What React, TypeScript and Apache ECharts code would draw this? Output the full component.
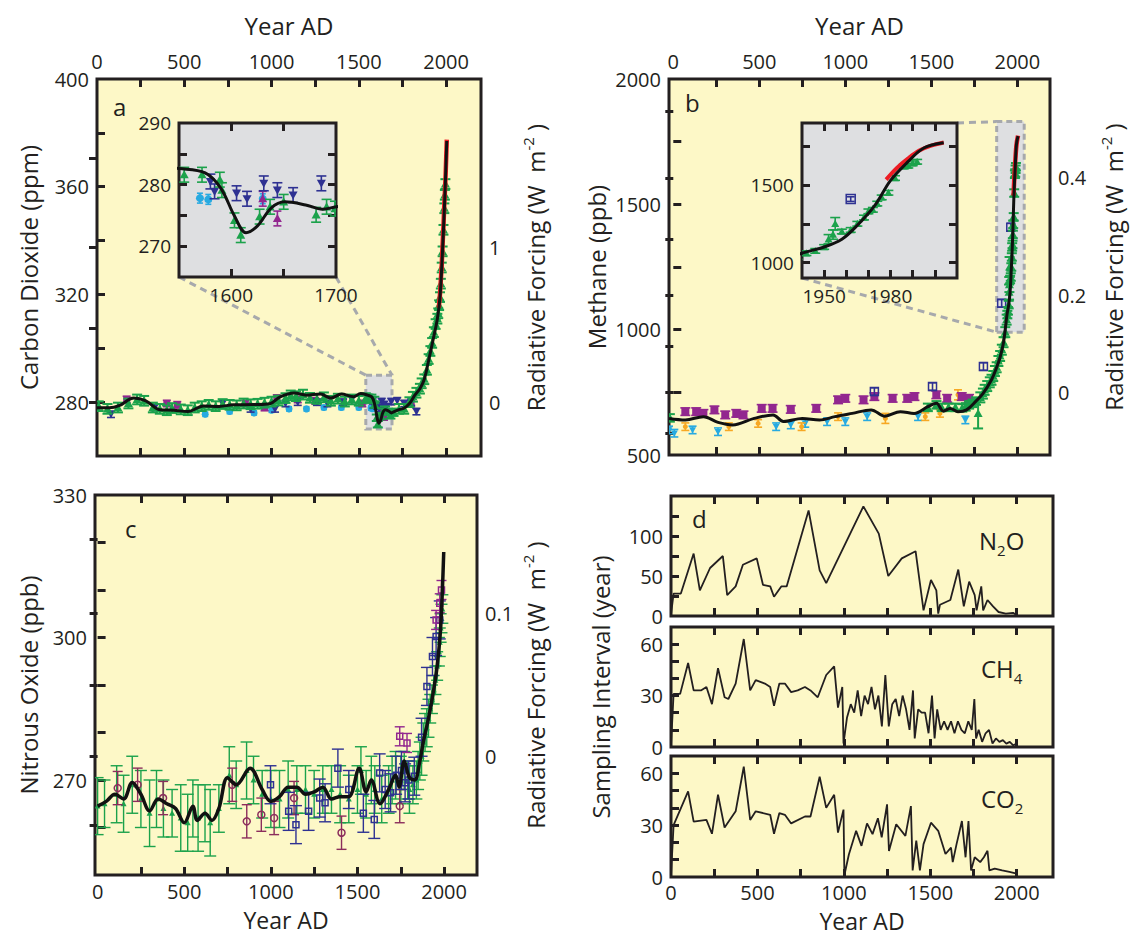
import React, { useEffect, useRef } from "react";
import * as echarts from "echarts";

// ---------------- styling constants ----------------
const FONT = "'Open Sans', 'Noto Sans', sans-serif";
const INK = "#231f20";
const PANEL_BG = "#fdf8c7";
const INSET_BG = "#dedfe1";
const DASH = "#a7a9ac";
const C_GREEN = "#1ba24b";
const C_BLUE = "#2e3192";
const C_CYAN = "#27aae1";
const C_MAGENTA = "#92278f";
const C_ORANGE = "#f7a823";
const C_RED = "#ed1c24";
const C_PLUM = "#8b2d5c";

// ---------------- tick / label values ----------------
const yearTicks = [250, 500, 750, 1000, 1250, 1500, 1750, 2000];
const yearLabels = [0, 500, 1000, 1500, 2000];

const co2Ticks = [280, 300, 320, 340, 360, 380];
const co2Labels = [280, 320, 360, 400];
const co2RfTicks = [0, 0.5, 1, 1.5];
const co2RfLabels = [0, 1];
const co2InsetXTicks = [1600, 1650];
const co2InsetXLabels = [1600, 1700];
const co2InsetYTicks = [270, 275, 280, 285];
const co2InsetYLabels = [270, 280, 290];

const ch4Ticks = [750, 1000, 1250, 1500, 1750];
const ch4Labels = [500, 1000, 1500, 2000];
const ch4RfTicks = [-0.1, 0, 0.1, 0.2, 0.3, 0.4, 0.5];
const ch4RfLabels = [0, 0.2, 0.4];
const ch4InsetXTicks = [1950, 1960, 1970, 1980, 1990, 2000];
const ch4InsetXLabels = [1950, 1980];
const ch4InsetYTicks = [1000, 1250, 1500, 1750];
const ch4InsetYLabels = [1000, 1500];

const n2oTicks = [260, 270, 280, 290, 300, 310, 320];
const n2oLabels = [270, 300, 330];
const n2oRfTicks = [-0.05, 0, 0.05, 0.1, 0.15];
const n2oRfLabels = [0, 0.1];

const dN2oTicks = [25, 50, 75, 100, 125];
const dN2oLabels = [0, 50, 100];
const dSmallTicks = [10, 20, 30, 40, 50, 60];
const dSmallLabels = [0, 30, 60];

// ---------------- Panel a : CO2 (ppm) ----------------
const co2Spline = [
  [0, 277.9], [70, 277.9], [130, 278.8], [210, 281.5], [280, 280.5], [360, 277.2], [440, 277], [520, 276.5],
  [610, 278.6], [700, 278.4], [780, 279], [900, 279.1], [990, 279.4], [1050, 282], [1130, 283.4], [1200, 282.6],
  [1280, 283], [1340, 281.5], [1400, 283], [1470, 282], [1510, 283.2], [1550, 282.6], [1575, 281.9], [1590, 279.4],
  [1603, 274.9], [1614, 272.2], [1625, 273.3], [1638, 276.2], [1651, 277.2], [1671, 276.7], [1687, 276], [1700, 276.4],
  [1730, 277.2], [1760, 277.8], [1790, 279.5], [1820, 282.5], [1850, 285], [1875, 288.5], [1900, 295.5], [1925, 303],
  [1950, 311], [1965, 319], [1975, 330], [1985, 344], [1995, 360], [2004, 377],
];
const co2Instrumental = [
  [1958, 315], [1965, 320], [1970, 325.5], [1975, 331], [1980, 338.5], [1985, 345.5], [1990, 354], [1995, 360.5],
  [2000, 369.5], [2004, 377.5],
];
const co2LawDome = [
  [10, 278.5, 1.8], [60, 277.5, 1.8], [120, 278, 1.8], [180, 279.5, 1.8], [230, 281, 1.8], [270, 280.5, 1.8],
  [320, 278, 1.8], [360, 277.5, 1.8], [400, 277, 1.8], [430, 277.8, 1.8], [480, 277.3, 1.8], [520, 277, 1.8],
  [560, 278, 1.8], [600, 278.5, 1.8], [640, 279, 1.8], [680, 278.5, 1.8], [720, 279.3, 1.8], [760, 279, 1.8],
  [800, 278.8, 1.8], [840, 279.5, 1.8], [880, 279.2, 1.8], [920, 279.4, 1.8], [960, 279.8, 1.8], [1000, 280.2, 1.8],
  [1040, 280.6, 1.8], [1080, 281.5, 1.8], [1110, 282.5, 1.8], [1140, 282.2, 1.8], [1180, 282.8, 1.8], [1220, 281.6, 1.8],
  [1260, 281.2, 1.8], [1300, 281.8, 1.8], [1340, 280.5, 1.8], [1380, 281.3, 1.8], [1420, 280.2, 1.8], [1460, 281, 1.8],
  [1500, 280.5, 1.8], [1540, 281.5, 1.8], [1555, 281.6, 1.2], [1572, 281.6, 1.2], [1589, 280.8, 1.2], [1591, 279.1, 1.2],
  [1603, 274.2, 1.2], [1609, 271.8, 1.2], [1627, 274.8, 1.2], [1637, 276.4, 1.2], [1650, 277.2, 1.2], [1681, 275.1, 1.2],
  [1691, 276.4, 1.2], [1699, 276.1, 1.2], [1730, 277.5, 1.8], [1760, 277.5, 1.8], [1790, 280, 1.8], [1810, 282, 1.8],
  [1830, 283.5, 1.8], [1850, 285, 1.8], [1860, 287, 1.8], [1875, 288.5, 1.8], [1890, 292, 1.8], [1900, 296, 1.8],
  [1910, 299, 1.8], [1920, 302, 1.8], [1930, 306, 1.8], [1940, 309, 1.8], [1950, 311, 1.8], [1955, 313, 1.8],
  [1960, 316, 1.8], [1965, 319, 1.8], [1970, 324, 1.8], [1975, 330, 1.8], [1980, 336, 1.8], [1985, 344, 1.8],
  [1990, 352, 1.8], [1993, 357, 1.8], [1996, 361, 1.8],
];
const co2DomeC = [
  [80, 275.5, 1.2], [330, 278, 1.2], [720, 279.5, 1.2], [880, 277.5, 1.2], [1020, 277.5, 1.2], [1080, 279.5, 1.2],
  [1150, 280, 1.2], [1260, 280, 1.2], [1320, 279.5, 1.2], [1410, 280, 1.2], [1460, 281, 1.2], [1580, 280.5, 1.2],
  [1584, 278.9, 1.2], [1605, 278.6, 1.2], [1615, 277.7, 1.2], [1631, 280.2, 1.2], [1644, 279.1, 1.2], [1659, 278.3, 1.2],
  [1686, 280.2, 1.2], [1720, 280.5, 1.2], [1760, 279.5, 1.2], [1800, 280, 1.2], [1830, 276.5, 1.2],
];
const co2TaylorDome = [
  [620, 275.5, 0.8], [760, 276.5, 0.8], [900, 276, 0.8], [1000, 277, 0.8], [1100, 277.5, 0.8], [1200, 277.5, 0.8],
  [1300, 278, 0.8], [1400, 278, 0.8], [1500, 278, 0.8], [1570, 277.8, 0.8], [1578, 277.6, 0.8], [1630, 277.7, 0.8],
];
const co2Other = [
  [170, 281, 1.2], [400, 279.5, 1.2], [460, 279, 1.2], [850, 279.5, 1.2], [960, 278, 1.2], [1030, 281.5, 1.2],
  [1150, 281, 1.2], [1250, 280.5, 1.2], [1520, 279.5, 1.2], [1630, 277.7, 1.2], [1644, 274.5, 1.2], [1800, 279.5, 1.2],
];

// ---------------- Panel b : CH4 (ppb) ----------------
const ch4Spline = [
  [-25, 646], [70, 640], [175, 653], [260, 630], [345, 620], [470, 646], [580, 660], [640, 634], [750, 646],
  [850, 640], [940, 653], [1040, 666], [1150, 680], [1230, 655], [1320, 673], [1400, 666], [1480, 693], [1530, 706],
  [1570, 675], [1610, 686], [1655, 673], [1705, 680], [1760, 715], [1800, 745], [1850, 800], [1880, 850], [1900, 890],
  [1920, 950], [1940, 1060], [1950, 1100], [1958, 1150], [1965, 1240], [1973, 1370], [1980, 1530], [1988, 1652],
  [1995, 1739], [2004, 1772],
];
const ch4Instrumental = [
  [1978, 1535], [1983, 1612], [1988, 1672], [1993, 1722], [1998, 1752], [2004, 1774],
];
const ch4LawDome = [
  [-20, 648, 15], [1480, 690, 15], [1530, 700, 15], [1560, 690, 15], [1600, 690, 15], [1640, 690, 15], [1680, 688, 15],
  [1700, 692, 15], [1720, 700, 15], [1740, 706, 15], [1760, 715, 15], [1772, 666, 60], [1785, 730, 20], [1800, 745, 20],
  [1810, 760, 20], [1825, 775, 20], [1840, 790, 20], [1850, 800, 20], [1860, 815, 20], [1870, 835, 20], [1880, 850, 20],
  [1890, 875, 20], [1900, 895, 20], [1910, 920, 20], [1920, 950, 20], [1930, 990, 20], [1938, 1040, 20], [1942, 1060, 15],
  [1946, 1075, 15], [1950, 1100, 15], [1952, 1150, 30], [1954, 1180, 30], [1955, 1250, 40], [1958, 1200, 15],
  [1962, 1210, 15], [1965, 1250, 15], [1968, 1290, 15], [1970, 1330, 15], [1972, 1340, 15], [1974, 1380, 15],
  [1976, 1420, 15], [1979, 1450, 15], [1982, 1545, 15], [1986, 1620, 15], [1988, 1625, 15], [1990, 1640, 15],
  [1992, 1650, 15],
];
const ch4Gisp = [
  [70, 673, 15], [133, 673, 15], [175, 666, 15], [239, 680, 15], [302, 660, 15], [366, 666, 15], [408, 660, 15],
  [514, 686, 15], [577, 686, 15], [683, 682, 15], [831, 686, 15], [958, 720, 15], [1000, 726, 15], [1106, 720, 15],
  [1169, 733, 15], [1275, 726, 15], [1360, 726, 15], [1402, 733, 15], [1529, 740, 15], [1592, 726, 15], [1677, 733, 15],
  [1719, 726, 15],
];
const ch4Blue = [[1169, 753, 15], [1507, 773, 15], [1803, 853, 15], [1909, 1105, 15], [1962, 1409, 15]];
const ch4Orange = [
  [70, 613, 15], [323, 613, 15], [493, 626, 15], [746, 613, 15], [958, 653, 15], [1233, 646, 20], [1465, 653, 15],
  [1550, 666, 15], [1655, 740, 20],
];
const ch4Cyan = [
  [-25, 600, 15], [6, 587, 15], [112, 600, 15], [260, 593, 15], [598, 613, 15], [683, 620, 15], [767, 626, 15],
  [894, 633, 15], [1000, 633, 15], [1127, 653, 15], [1423, 653, 15], [1698, 640, 15],
];

// ---------------- Panel c : N2O (ppb) ----------------
const n2oSpline = [
  [0, 264.5], [50, 265.5], [100, 267], [150, 266], [200, 269.5], [250, 267], [300, 263.5], [350, 266], [400, 265],
  [450, 264], [500, 261], [550, 264.5], [575, 261.5], [620, 263], [660, 261.5], [700, 264], [750, 270.5], [800, 269],
  [880, 272.5], [950, 268], [1000, 265.5], [1050, 266.5], [1100, 268.5], [1150, 268.5], [1200, 267], [1250, 267.5],
  [1300, 268.5], [1350, 266], [1400, 266.5], [1450, 266.5], [1510, 272.5], [1550, 267.5], [1580, 270], [1630, 265],
  [1680, 268], [1720, 271], [1740, 268.5], [1770, 274], [1800, 270.5], [1830, 270], [1860, 274], [1880, 278],
  [1910, 283], [1940, 289], [1960, 294], [1980, 302], [1998, 318],
];
const n2oGreen = [
  [0, 264.5, 6], [40, 265, 5], [110, 267, 6], [150, 265, 6], [200, 269, 6], [250, 266, 6], [300, 263, 7], [340, 266, 6],
  [380, 264, 6], [430, 263, 5], [480, 262, 7], [520, 261, 6], [550, 264, 6], [580, 262, 7], [620, 263, 6], [650, 261, 7],
  [700, 264, 5], [760, 271, 6], [800, 269, 5], [860, 272, 6], [900, 270, 5], [950, 267, 5], [1000, 266, 6],
  [1050, 266, 6], [1100, 268, 6], [1150, 268, 5], [1200, 268, 5], [1250, 267, 5], [1300, 268, 5], [1350, 268, 5],
  [1400, 267, 6], [1450, 266, 5], [1500, 268, 5], [1520, 272, 5], [1550, 267, 5], [1580, 270, 5], [1600, 268, 5],
  [1640, 266, 5], [1680, 268, 5], [1700, 270, 5], [1720, 271, 5], [1750, 270, 5], [1770, 272, 4], [1790, 270, 4],
  [1800, 268, 5], [1820, 269, 4], [1840, 270, 4], [1850, 272, 4], [1860, 274, 4], [1870, 275, 4], [1880, 278, 4],
  [1890, 280, 4], [1900, 281, 4], [1910, 283, 4], [1920, 285, 3], [1930, 287, 3], [1940, 289, 3], [1950, 291, 3],
  [1960, 294, 3], [1970, 297, 3], [1975, 299, 3], [1980, 302, 3], [1985, 304, 3], [1990, 306, 3],
];
const n2oPlum = [
  [116, 268.3, 3.5], [231, 269, 3.5], [378, 266.2, 3.5], [777, 269, 3.5], [861, 261.3, 3.5], [945, 262.7, 3.5],
  [1019, 262, 3.5], [1134, 266.2, 3.5], [1408, 258.9, 3.5], [1744, 264.5, 3.5],
];
const n2oBlue = [
  [998, 269, 4], [1103, 263.4, 4], [1145, 260.6, 4], [1218, 263.4, 4], [1282, 266.2, 4], [1313, 265.2, 4],
  [1387, 272.5, 4], [1450, 268, 4], [1534, 263, 4], [1597, 261.7, 4], [1628, 271.5, 4], [1660, 268, 4], [1691, 267.3, 4],
  [1723, 271, 4], [1754, 272, 4], [1775, 269.4, 4], [1796, 270, 4], [1828, 270.8, 4], [1870, 279, 4], [1901, 289.7, 4],
  [1933, 296, 4], [1954, 300.2, 4], [1975, 303.7, 4],
];
const n2oMagenta = [
  [1744, 279.2, 2], [1786, 277.8, 2], [1954, 303.7, 2], [1975, 307.2, 2], [1985, 310, 2],
];

// ---------------- Panel d : sampling interval (years) ----------------
const n2oInterval = [
  [0, 2], [15, 28], [57, 28], [131, 78], [167, 32], [226, 60], [300, 75], [325, 26], [374, 37], [416, 64], [496, 72],
  [532, 39], [574, 37], [596, 24], [638, 37], [669, 37], [796, 132], [860, 57], [898, 41], [1113, 137], [1202, 103],
  [1257, 50], [1335, 72], [1415, 81], [1461, 7], [1504, 45], [1535, 32], [1546, 3], [1556, 14], [1616, 20], [1662, 58],
  [1694, 12], [1725, 43], [1757, 26], [1768, 7], [1795, 37], [1806, 7], [1831, 20], [1863, 12], [1895, 5], [1937, 3],
  [1979, 4], [2000, 1],
];
const ch4Interval = [
  [0, 1], [15, 31], [53, 31], [99, 49], [131, 33], [173, 33], [205, 35], [237, 25], [272, 46], [310, 29], [332, 28],
  [374, 37], [421, 63], [458, 33], [490, 39], [543, 37], [574, 35], [596, 24], [627, 37], [659, 37], [695, 32], [733, 33],
  [775, 35], [807, 33], [849, 29], [898, 42], [944, 47], [966, 23], [991, 35], [998, 2], [1018, 17], [1040, 25],
  [1060, 20], [1080, 33], [1100, 18], [1120, 30], [1140, 25], [1160, 35], [1180, 22], [1200, 30], [1220, 12], [1240, 42],
  [1260, 12], [1280, 25], [1300, 28], [1320, 18], [1340, 30], [1360, 22], [1380, 10], [1400, 33], [1410, 5], [1430, 22],
  [1450, 20], [1470, 20], [1490, 8], [1510, 30], [1525, 5], [1540, 22], [1560, 10], [1580, 15], [1600, 10], [1620, 15],
  [1640, 8], [1660, 15], [1680, 10], [1700, 8], [1720, 15], [1740, 10], [1755, 28], [1765, 5], [1780, 10], [1800, 3],
  [1820, 8], [1840, 10], [1860, 2], [1880, 5], [1900, 3], [1920, 4], [1940, 2], [1960, 3], [1980, 1], [2000, 2],
];
const co2Interval = [
  [0, 1], [15, 30], [99, 49.5], [131, 32], [205, 33], [237, 25], [272, 47.6], [310, 28.6], [374, 38], [421, 63.8],
  [458, 33], [490, 38], [574, 36], [596, 25], [627, 37], [659, 36], [695, 31], [775, 35], [807, 35], [860, 58],
  [898, 40], [944, 47.6], [966, 25.7], [998, 39], [1003, 1], [1029, 13], [1071, 26.7], [1102, 18], [1134, 31],
  [1166, 24.8], [1197, 34], [1219, 23], [1250, 42], [1261, 15], [1303, 30.5], [1356, 23.8], [1388, 41], [1398, 3.8],
  [1419, 21], [1440, 3.8], [1461, 19], [1504, 31.4], [1546, 26.7], [1588, 13.3], [1620, 17], [1630, 8.6], [1652, 19],
  [1683, 32.4], [1704, 11.4], [1721, 32.4], [1736, 3.8], [1757, 11.4], [1789, 8.6], [1810, 11.4], [1831, 15.2],
  [1842, 3.8], [1873, 4.8], [1916, 3.8], [1958, 2.9], [2000, 1.9],
];

// ---------------- radiative forcing conversions (axis scales) ----------------
const co2FromRf = (rf: number) => 280 * Math.exp(rf / 5.35);
const rfFromCo2 = (c: number) => 5.35 * Math.log(c / 280);
const ch4FromRf = (rf: number) => Math.pow(Math.sqrt(749) + rf / 0.0315, 2);
const rfFromCh4 = (m: number) => 0.0315 * (Math.sqrt(m) - Math.sqrt(749));
const n2oFromRf = (rf: number) => Math.pow(Math.sqrt(275) + rf / 0.113, 2);
const rfFromN2o = (n: number) => 0.113 * (Math.sqrt(n) - Math.sqrt(275));

// ---------------- helpers ----------------
const plain = (v: number) => String(Math.round(v));

function axis(kind: string, gridIndex: number, position: string, min: number, max: number, ticks: number[],
  labels: number[] | null, opts: any = {}) {
  const a: any = {
    type: "value", gridIndex, position, min, max, z: opts.z ?? 0,
    axisLine: { show: false },
    splitLine: { show: false },
    axisTick: { show: true, inside: true, length: opts.tickLen ?? 8, lineStyle: { color: INK, width: 3 }, customValues: ticks },
    axisLabel: labels
      ? {
        show: true, customValues: labels, margin: opts.margin ?? 8, fontSize: opts.fontSize ?? 20, color: INK,
        fontFamily: FONT, formatter: opts.formatter ?? plain, lineHeight: opts.labelLineHeight,
      }
      : { show: false },
  };
  if (opts.name) {
    a.name = opts.name;
    a.nameLocation = "middle";
    a.nameGap = opts.nameGap;
    a.nameRotate = kind === "y" ? 90 : 0;
    a.nameTextStyle = {
      fontSize: opts.nameSize ?? 24, color: INK, fontFamily: FONT, lineHeight: opts.nameLineHeight,
      rich: { sup: { fontSize: 15, color: INK, fontFamily: FONT, padding: [0, 0, 16, 0] } },
    };
  }
  return a;
}

function markerEl(shape: string, cx: number, cy: number, s: number, color: string) {
  switch (shape) {
    case "up":
      return { type: "polygon", shape: { points: [[cx, cy - s], [cx - s, cy + s * 0.8], [cx + s, cy + s * 0.8]] }, style: { fill: color } };
    case "down":
      return { type: "polygon", shape: { points: [[cx, cy + s], [cx - s, cy - s * 0.8], [cx + s, cy - s * 0.8]] }, style: { fill: color } };
    case "square":
      return { type: "rect", shape: { x: cx - s, y: cy - s, width: 2 * s, height: 2 * s }, style: { fill: "none", stroke: color, lineWidth: 1.5 } };
    case "fsquare":
      return { type: "rect", shape: { x: cx - s, y: cy - s, width: 2 * s, height: 2 * s }, style: { fill: color } };
    case "circle":
      return { type: "circle", shape: { cx, cy, r: s }, style: { fill: "none", stroke: color, lineWidth: 1.5 } };
    default:
      return { type: "circle", shape: { cx, cy, r: s }, style: { fill: color } };
  }
}

function errSeries(name: string, data: number[][], color: string, shape: string, xi: number, yi: number,
  opts: any = {}) {
  const size = opts.size ?? 4;
  const cap = opts.cap ?? 4;
  return {
    type: "custom", name, xAxisIndex: xi, yAxisIndex: yi, data, clip: true, silent: true, z: opts.z ?? 2,
    encode: { x: 0, y: 1 },
    renderItem: (_p: any, api: any) => {
      const x = api.value(0), y = api.value(1), e = api.value(2);
      const c = api.coord([x, y]);
      const t = api.coord([x, y + e]);
      const b = api.coord([x, y - e]);
      const st = { stroke: color, lineWidth: opts.lw ?? 1.6 };
      return {
        type: "group",
        children: [
          { type: "line", shape: { x1: c[0], y1: t[1], x2: c[0], y2: b[1] }, style: st },
          { type: "line", shape: { x1: c[0] - cap, y1: t[1], x2: c[0] + cap, y2: t[1] }, style: st },
          { type: "line", shape: { x1: c[0] - cap, y1: b[1], x2: c[0] + cap, y2: b[1] }, style: st },
          markerEl(shape, c[0], c[1], size, color),
        ],
      };
    },
  };
}

function lineSeries(name: string, data: number[][], xi: number, yi: number, color: string, width: number, z: number, smooth: any = 0.35) {
  return {
    type: "line", name, data, xAxisIndex: xi, yAxisIndex: yi, showSymbol: false, smooth, silent: true, z,
    lineStyle: { color, width }, clip: true,
  };
}

function buildOption() {
  const frame = (left: number, top: number, width: number, height: number, bg: string, z = 0) => ({
    left, top, width, height, show: true, backgroundColor: bg, borderColor: INK, borderWidth: 3, z,
  });
  const grid = [
    frame(97, 79, 384, 377, PANEL_BG),        // 0 a
    frame(179, 123, 157, 154, INSET_BG, 5),   // 1 a inset
    frame(669, 79, 381, 376, PANEL_BG),       // 2 b
    frame(802, 123, 155, 155, INSET_BG, 5),   // 3 b inset
    frame(95, 495, 382, 380, PANEL_BG),       // 4 c
    frame(671, 496, 382, 120, PANEL_BG),      // 5 d N2O
    frame(671, 627, 382, 120, PANEL_BG),      // 6 d CH4
    frame(671, 756, 382, 121, PANEL_BG),      // 7 d CO2
  ];
  const rfName = "Radiative Forcing (W  m{sup|-2} )";
  const bottomOpts = { margin: 5, labelLineHeight: 22, nameSize: 23, nameLineHeight: 26 };
  const xAxis = [
    axis("x", 0, "bottom", 0, 2200, yearTicks, null),                                              // 0
    axis("x", 0, "top", 0, 2200, yearTicks, yearLabels, { name: "Year AD", nameGap: 42 }),       // 1
    axis("x", 1, "bottom", 1550, 1700, co2InsetXTicks, co2InsetXLabels, { z: 6, fontSize: 19 }),  // 2
    axis("x", 1, "top", 1550, 1700, co2InsetXTicks, null, { z: 6 }),                               // 3
    axis("x", 2, "bottom", -25, 2190, yearTicks, null),                                            // 4
    axis("x", 2, "top", -25, 2190, yearTicks, yearLabels, { name: "Year AD", nameGap: 42 }),     // 5
    axis("x", 3, "bottom", 1940, 2010, ch4InsetXTicks, ch4InsetXLabels, { z: 6, fontSize: 19 }),  // 6
    axis("x", 3, "top", 1940, 2010, ch4InsetXTicks, null, { z: 6 }),                               // 7
    axis("x", 4, "bottom", -15, 2190, yearTicks, yearLabels, { name: "Year AD", nameGap: 32, ...bottomOpts }), // 8
    axis("x", 4, "top", -15, 2190, yearTicks, null),                                               // 9
    axis("x", 5, "bottom", 0, 2210, yearTicks, null),                                              // 10
    axis("x", 5, "top", 0, 2210, yearTicks, null),                                                 // 11
    axis("x", 6, "bottom", 0, 2210, yearTicks, null),                                              // 12
    axis("x", 6, "top", 0, 2210, yearTicks, null),                                                 // 13
    axis("x", 7, "bottom", 0, 2210, yearTicks, yearLabels, { name: "Year AD", nameGap: 31, ...bottomOpts, margin: 4 }), // 14
    axis("x", 7, "top", 0, 2210, yearTicks, null),                                                 // 15
  ];
  const yAxis = [
    axis("y", 0, "left", 260, 400, co2Ticks, co2Labels, { name: "Carbon Dioxide (ppm)", nameGap: 57 }), // 0
    axis("y", 0, "right", 260, 400, co2RfTicks.map(co2FromRf), co2RfLabels.map(co2FromRf),
      { name: rfName, nameGap: 39, formatter: (v: number) => String(Math.round(rfFromCo2(v) * 10) / 10) }), // 1
    axis("y", 1, "left", 265, 290, co2InsetYTicks, co2InsetYLabels, { z: 6, fontSize: 19 }),       // 2
    axis("y", 1, "right", 265, 290, co2InsetYTicks, null, { z: 6 }),                                // 3
    axis("y", 2, "left", 500, 2000, ch4Ticks, ch4Labels, { name: "Methane (ppb)", nameGap: 61 }), // 4
    axis("y", 2, "right", 500, 2000, ch4RfTicks.map(ch4FromRf), ch4RfLabels.map(ch4FromRf),
      { name: rfName, nameGap: 48, formatter: (v: number) => String(Math.round(rfFromCh4(v) * 10) / 10) }), // 5
    axis("y", 3, "left", 900, 1900, ch4InsetYTicks, ch4InsetYLabels, { z: 6, fontSize: 19 }),       // 6
    axis("y", 3, "right", 900, 1900, ch4InsetYTicks, null, { z: 6 }),                                // 7
    axis("y", 4, "left", 250, 330, n2oTicks, n2oLabels, { name: "Nitrous Oxide (ppb)", nameGap: 55 }), // 8
    axis("y", 4, "right", 250, 330, n2oRfTicks.map(n2oFromRf), n2oRfLabels.map(n2oFromRf),
      { name: rfName, nameGap: 43, formatter: (v: number) => String(Math.round(rfFromN2o(v) * 100) / 100) }), // 9
    axis("y", 5, "left", 0, 150, dN2oTicks, dN2oLabels),                                          // 10
    axis("y", 6, "left", 0, 70, dSmallTicks, dSmallLabels, { name: "Sampling Interval (year)", nameGap: 59 }), // 11
    axis("y", 7, "left", 0, 70, dSmallTicks, dSmallLabels),                                       // 12
  ];

  const series: any[] = [];
  const idx: any = {};
  const push = (key: string | null, s: any) => { if (key) idx[key] = series.length; series.push(s); };

  // ---- panel a main ----
  push("aBox", {
    type: "line", data: [], xAxisIndex: 0, yAxisIndex: 0, z: 1, silent: true,
    markArea: {
      silent: true,
      itemStyle: { color: INSET_BG, borderColor: DASH, borderWidth: 3, borderType: [6, 4] },
      data: [[{ coord: [1540, 270] }, { coord: [1690, 290] }]],
    },
  });
  push(null, errSeries("Taylor Dome", co2TaylorDome, C_CYAN, "dot", 0, 0, { size: 3.5, cap: 3 }));
  push(null, errSeries("other CO2", co2Other, C_MAGENTA, "fsquare", 0, 0, { size: 3.5, cap: 4 }));
  push(null, errSeries("Dome C", co2DomeC, C_BLUE, "down", 0, 0, { size: 4, cap: 4 }));
  push(null, errSeries("Law Dome", co2LawDome, C_GREEN, "up", 0, 0, { size: 4.5, cap: 5, lw: 2 }));
  push(null, lineSeries("Mauna Loa", co2Instrumental, 0, 0, C_RED, 4.5, 3));
  push("aMain", lineSeries("spline CO2", co2Spline, 0, 0, "#111111", 3, 4));

  // ---- panel a inset ----
  push(null, errSeries("Taylor Dome inset", co2TaylorDome, C_CYAN, "dot", 2, 2, { size: 4, cap: 3, z: 7 }));
  push(null, errSeries("other CO2 inset", co2Other, C_MAGENTA, "up", 2, 2, { size: 4.5, cap: 4, z: 7 }));
  push(null, errSeries("Dome C inset", co2DomeC, C_BLUE, "down", 2, 2, { size: 4.5, cap: 5, z: 7 }));
  push(null, errSeries("Law Dome inset", co2LawDome, C_GREEN, "up", 2, 2, { size: 4.5, cap: 5, z: 7 }));
  push("aInset", lineSeries("spline CO2 inset", co2Spline, 2, 2, "#111111", 3, 8));

  // ---- panel b main ----
  push("bBox", {
    type: "line", data: [], xAxisIndex: 4, yAxisIndex: 4, z: 1, silent: true,
    markArea: {
      silent: true,
      itemStyle: { color: INSET_BG, borderColor: DASH, borderWidth: 3, borderType: [6, 4] },
      data: [[{ coord: [1880, 990] }, { coord: [2040, 1830] }]],
    },
  });
  push(null, errSeries("CH4 cyan", ch4Cyan, C_CYAN, "down", 4, 4, { size: 3.5, cap: 4 }));
  push(null, errSeries("CH4 orange", ch4Orange, C_ORANGE, "dot", 4, 4, { size: 2.5, cap: 4 }));
  push(null, errSeries("CH4 GISP2", ch4Gisp, C_MAGENTA, "fsquare", 4, 4, { size: 4, cap: 5 }));
  push(null, errSeries("CH4 blue", ch4Blue, C_BLUE, "square", 4, 4, { size: 4, cap: 4 }));
  push(null, errSeries("CH4 Law Dome", ch4LawDome, C_GREEN, "up", 4, 4, { size: 4.5, cap: 5, lw: 2 }));
  push(null, lineSeries("CH4 instrumental", ch4Instrumental, 4, 4, C_RED, 4.5, 3));
  push("bMain", lineSeries("spline CH4", ch4Spline, 4, 4, "#111111", 3, 4));

  // ---- panel b inset ----
  push(null, errSeries("CH4 Law Dome inset", ch4LawDome, C_GREEN, "up", 6, 6, { size: 4, cap: 5, z: 7 }));
  push(null, errSeries("CH4 blue inset", ch4Blue, C_BLUE, "square", 6, 6, { size: 4.5, cap: 4, z: 7 }));
  push(null, lineSeries("CH4 instrumental inset", ch4Instrumental, 6, 6, C_RED, 4, 8));
  push("bInset", lineSeries("spline CH4 inset", ch4Spline, 6, 6, "#111111", 3, 9));

  // ---- panel c ----
  push(null, errSeries("N2O green", n2oGreen, C_GREEN, "up", 8, 8, { size: 3, cap: 6, lw: 1.4 }));
  push(null, errSeries("N2O plum", n2oPlum, C_PLUM, "circle", 8, 8, { size: 3.5, cap: 5, lw: 1.4 }));
  push(null, errSeries("N2O blue", n2oBlue, C_BLUE, "square", 8, 8, { size: 3, cap: 6, lw: 1.4 }));
  push(null, errSeries("N2O magenta", n2oMagenta, C_MAGENTA, "square", 8, 8, { size: 3, cap: 5, lw: 1.4 }));
  push(null, lineSeries("spline N2O", n2oSpline, 8, 8, "#111111", 3.5, 4));

  // ---- panel d ----
  push(null, lineSeries("N2O interval", n2oInterval, 10, 10, INK, 1.8, 3, false));
  push(null, lineSeries("CH4 interval", ch4Interval, 12, 11, INK, 1.8, 3, false));
  push(null, lineSeries("CO2 interval", co2Interval, 14, 12, INK, 1.8, 3, false));

  return {
    option: {
      animation: false,
      backgroundColor: "#ffffff",
      textStyle: { fontFamily: FONT },
      grid, xAxis, yAxis, series,
    },
    idx,
  };
}

export default function App() {
  const ref = useRef<HTMLDivElement>(null);
  useEffect(() => {
    const chart = echarts.init(ref.current!, null, { renderer: "svg" });
    const { option, idx } = buildOption();
    chart.setOption(option);

    const px = (si: number, v: number[]) => chart.convertToPixel({ seriesIndex: si }, v) as number[];
    const dashLine = (id: string, a: number[], b: number[]) => ({
      id, type: "line", z: 3, silent: true,
      shape: { x1: a[0], y1: a[1], x2: b[0], y2: b[1] },
      style: { stroke: DASH, lineWidth: 3, lineDash: [7, 5] },
    });
    const txt = (id: string, left: number, top: number, text: string, rich?: any) => ({
      id, type: "text", left, top, z: 20, silent: true,
      style: { text, fontSize: 24, fill: INK, fontFamily: FONT, rich },
    });
    const subRich = { sub: { fontSize: 15, fill: INK, fontFamily: FONT, padding: [20, 0, 0, 0] } };

    const graphic = [
      dashLine("a1", px(idx.aInset, [1550, 265]), px(idx.aMain, [1540, 290])),
      dashLine("a2", px(idx.aInset, [1700, 265]), px(idx.aMain, [1690, 290])),
      dashLine("b1", px(idx.bInset, [2010, 1900]), px(idx.bMain, [1880, 1830])),
      dashLine("b2", px(idx.bInset, [1940, 900]), px(idx.bMain, [1880, 990])),
      txt("la", 113, 94, "a"),
      txt("lb", 685, 90, "b"),
      txt("lc", 125, 516, "c"),
      txt("ld", 692, 506, "d"),
      txt("gN", 979, 528, "N{sub|2}O", subRich),
      txt("gC", 981, 656, "CH{sub|4}", subRich),
      txt("gO", 981, 786, "CO{sub|2}", subRich),
    ];
    chart.setOption({ graphic });
    return () => chart.dispose();
  }, []);
  return (
    <div
      ref={ref}
      style={{ position: "fixed", left: 0, top: 0, width: 1132, height: 937, background: "#ffffff" }}
    />
  );
}
